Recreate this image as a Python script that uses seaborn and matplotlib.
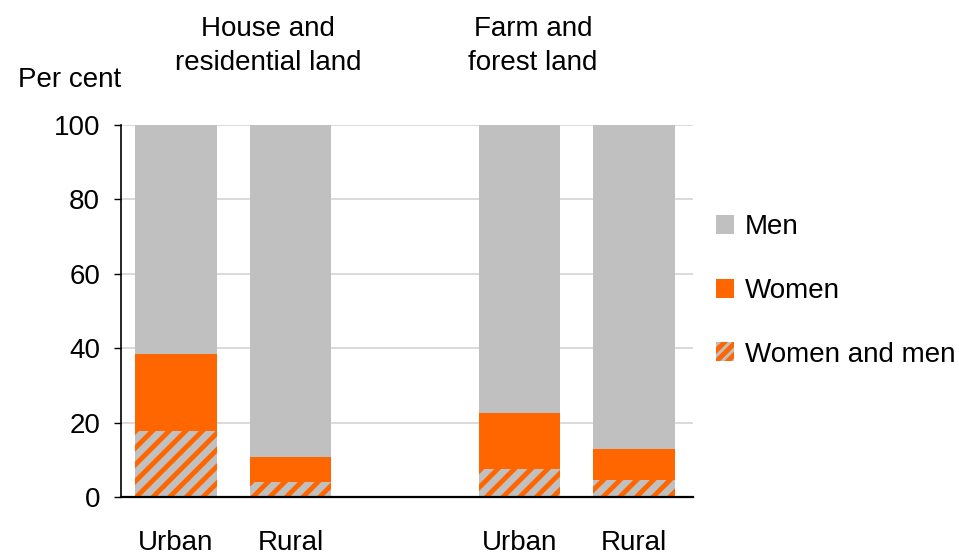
import pandas as pd
import matplotlib
matplotlib.use('Agg')
import matplotlib.pyplot as plt
import seaborn as sns
from matplotlib.patches import Patch

# slots on the x axis, the middle one stays empty to split the two groups
slots = ['House-Urban', 'House-Rural', 'gap', 'Farm-Urban', 'Farm-Rural']
tick_labels = ['Urban', 'Rural', '', 'Urban', 'Rural']
groups = ['House and\nresidential land', 'Farm and\nforest land']

bars = ['House-Urban', 'House-Rural', 'Farm-Urban', 'Farm-Rural']
both = [17.7, 4.0, 7.5, 4.7]      # women and men
women = [20.7, 6.7, 15.2, 8.1]
men = [61.6, 89.3, 77.3, 87.2]

GREY = '#C0C0C0'
ORANGE = '#FF6600'

sns.set_theme(style='white')
plt.rcParams['font.family'] = ['Liberation Sans', 'DejaVu Sans']
plt.rcParams['text.color'] = 'black'
plt.rcParams['xtick.color'] = 'black'
plt.rcParams['ytick.color'] = 'black'
plt.rcParams['hatch.linewidth'] = 3.5

df = pd.DataFrame({'slot': bars, 'both': both, 'women': women, 'men': men})
df['women_top'] = df['both'] + df['women']
df['total'] = df['women_top'] + df['men']

fig = plt.figure(figsize=(9.59, 5.53), dpi=100)
ax = fig.add_axes([121 / 959, 56 / 553, 572 / 959, 372 / 553])

# stacked by overdrawing the cumulative heights
sns.barplot(data=df, x='slot', y='total', order=slots, color=GREY, saturation=1,
            width=0.71, errorbar=None, linewidth=0, ax=ax)
sns.barplot(data=df, x='slot', y='women_top', order=slots, color=ORANGE, saturation=1,
            width=0.71, errorbar=None, linewidth=0, ax=ax)
sns.barplot(data=df, x='slot', y='both', order=slots, color=GREY, saturation=1,
            width=0.71, errorbar=None, edgecolor=ORANGE, linewidth=0, hatch='//', ax=ax)

ax.set_xlim(-0.48, 4.515)
ax.set_ylim(0, 100)
ax.set_yticks([0, 20, 40, 60, 80, 100])
ax.set_xticks(range(len(slots)))
ax.set_xticklabels(tick_labels)
ax.set_xlabel('')
ax.set_ylabel('')
ax.set_axisbelow(True)
ax.yaxis.grid(True, color='#D4D4D4', linewidth=1.2)
ax.xaxis.grid(False)
for s in ['top', 'right']:
    ax.spines[s].set_visible(False)
ax.spines['left'].set_color('black')
ax.spines['left'].set_linewidth(1.2)
ax.spines['bottom'].set_color('black')
ax.spines['bottom'].set_linewidth(1.6)
ax.tick_params(axis='y', left=True, length=5, width=1, color='black', pad=10, labelsize=20)
ax.tick_params(axis='x', bottom=False, length=0, pad=24, labelsize=20)

fig.text(18 / 959, 1 - 80 / 553, 'Per cent', fontsize=20, ha='left', va='center')
fig.text(268 / 959, 1 - 46 / 553, groups[0], fontsize=20, ha='center', va='center',
         linespacing=1.4)
fig.text(533 / 959, 1 - 46 / 553, groups[1], fontsize=20, ha='center', va='center',
         linespacing=1.4)

handles = [Patch(facecolor=GREY, linewidth=0),
           Patch(facecolor=ORANGE, linewidth=0),
           Patch(facecolor=GREY, edgecolor=ORANGE, linewidth=0, hatch='///')]
fig.legend(handles, ['Men', 'Women', 'Women and men'], loc='center left',
           bbox_to_anchor=(716 / 959, 1 - 291 / 553), frameon=False, fontsize=20,
           handlelength=0.65, handleheight=0.65, handletextpad=0.4,
           labelspacing=1.35, borderpad=0, borderaxespad=0)

plt.savefig('out.png', dpi=100)
plt.close()
